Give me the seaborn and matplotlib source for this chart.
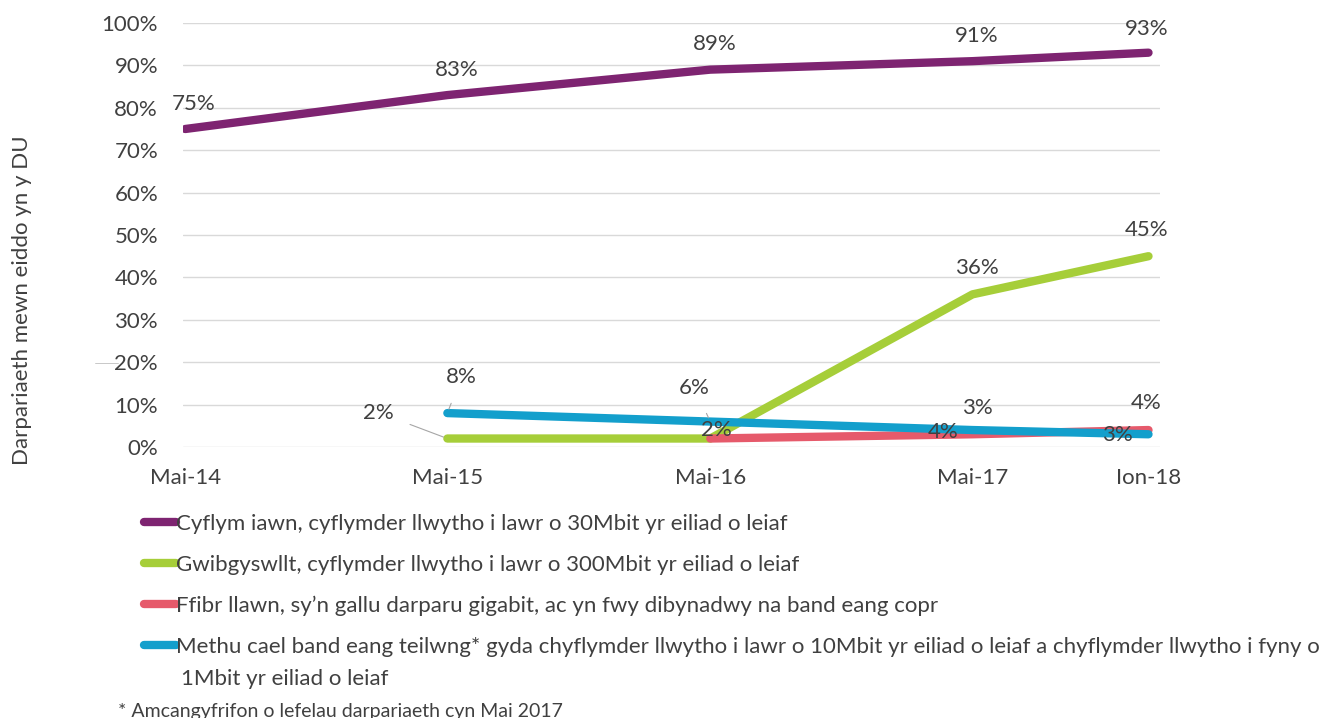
import numpy as np
import pandas as pd
import matplotlib.pyplot as plt
from matplotlib.ticker import PercentFormatter
from matplotlib.lines import Line2D
import seaborn as sns

# data
periods = ['Mai-14', 'Mai-15', 'Mai-16', 'Mai-17', 'Ion-18']
period_dates = ['2014-05-01', '2015-05-01', '2016-05-01', '2017-05-01', '2018-01-01']
superfast = [75, 83, 89, 91, 93]
ultrafast = [np.nan, 2, 2, 36, 45]
full_fibre = [np.nan, np.nan, 2, 3, 4]
no_decent = [np.nan, 8, 6, 4, 3]

series_names = [
    'Cyflym iawn, cyflymder llwytho i lawr o 30Mbit yr eiliad o leiaf',
    'Gwibgyswllt, cyflymder llwytho i lawr o 300Mbit yr eiliad o leiaf',
    'Ffibr llawn, sy\u2019n gallu darparu gigabit, ac yn fwy dibynadwy na band eang copr',
    'Methu cael band eang teilwng* gyda chyflymder llwytho i lawr o 10Mbit yr eiliad o leiaf a chyflymder llwytho i fyny o',
]
legend_extra = '1Mbit yr eiliad o leiaf'
footnote = '* Amcangyfrifon o lefelau darpariaeth cyn Mai 2017'
y_title = 'Darpariaeth mewn eiddo yn y DU'

colors = ['#7E2471', '#A6CE39', '#E65A6B', '#139FCC']

# label offsets in pixels (dx, dy) per series / point, and which get a leader line
label_offsets = [
    [(8, 25), (9, 25), (4, 26), (4, 25), (-2, 24)],
    [None, (-69, 26), (6, 9), (4, 26), (-2, 26)],
    [None, None, None, (5, 26), (-2, 27)],
    [None, (14, 36), (-16, 34), (-29, -2), (-31, -1)],
]
leaders = {(1, 1), (3, 1), (3, 2)}

df = pd.DataFrame({
    'date': pd.to_datetime(period_dates),
    'label': periods,
})
for name, vals in zip(series_names, [superfast, ultrafast, full_fibre, no_decent]):
    df[name] = vals
long = df.melt(id_vars=['date', 'label'], var_name='Series', value_name='Value').dropna()

sns.set_theme(style='white')
plt.rcParams['font.family'] = ['Lato', 'DejaVu Sans']
text_col = '#404040'
fs = 16

fig = plt.figure(figsize=(13.22, 7.18), dpi=100)
ax = fig.add_axes([183 / 1322, 1 - 447 / 718, (1160 - 183) / 1322, (447 - 23) / 718])

sns.lineplot(data=long, x='date', y='Value', hue='Series', hue_order=series_names,
             palette=colors, linewidth=6, solid_capstyle='round', ax=ax, legend=True)
handles, labels = ax.get_legend_handles_labels()
ax.get_legend().remove()

ax.set_ylim(0, 100)
ax.set_xlim(pd.Timestamp('2014-04-28'), pd.Timestamp('2018-01-17'))
ax.set_yticks(range(0, 101, 10))
ax.yaxis.set_major_formatter(PercentFormatter(100, decimals=0))
ax.set_xticks(df['date'])
ax.set_xticklabels(periods)
ax.tick_params(axis='both', length=0, labelsize=fs, colors=text_col)
ax.tick_params(axis='y', pad=18)
ax.tick_params(axis='x', pad=15)
ax.grid(axis='y', color='#D9D9D9', linewidth=1)
for s in ax.spines.values():
    s.set_visible(False)
ax.set_xlabel('')
ax.set_ylabel('')
fig.text(22 / 1322, 1 - 300 / 718, y_title, rotation=90, ha='center', va='center',
         fontsize=fs, color=text_col)

# data labels
for si, name in enumerate(series_names):
    vals = df[name].values
    for pi, v in enumerate(vals):
        off = label_offsets[si][pi]
        if off is None or np.isnan(v):
            continue
        kw = {}
        if (si, pi) in leaders:
            kw['arrowprops'] = dict(arrowstyle='-', color='#A6A6A6', lw=0.8,
                                    shrinkA=10, shrinkB=3)
        ax.annotate(f'{v:.0f}%', xy=(df['date'][pi], v), xytext=off,
                    textcoords='offset pixels', ha='center', va='center',
                    fontsize=fs, color=text_col, zorder=5, **kw)

# legend below the plot
leg = fig.legend(handles, labels, loc='upper left', bbox_to_anchor=(144 / 1322, 1 - 514 / 718),
                 frameon=False, fontsize=fs, handlelength=1.44, handletextpad=0.0,
                 labelspacing=0.94, borderpad=0, borderaxespad=0)
for h in leg.legend_handles:
    h.set_linewidth(6)
    h.set_solid_capstyle('round')
for t in leg.get_texts():
    t.set_color(text_col)
fig.text(181 / 1322, 1 - 679 / 718, legend_extra, ha='left', va='center',
         fontsize=fs, color=text_col)
fig.text(118 / 1322, 1 - 711 / 718, footnote, ha='left', va='center',
         fontsize=14, color=text_col)

# stray leader stub at the 20% tick, as in the source
fig.add_artist(Line2D([95 / 1322, 118 / 1322], [1 - 363 / 718, 1 - 363 / 718],
                      transform=fig.transFigure, color='#BFBFBF', lw=0.6))

fig.savefig('out.png', dpi=100)
